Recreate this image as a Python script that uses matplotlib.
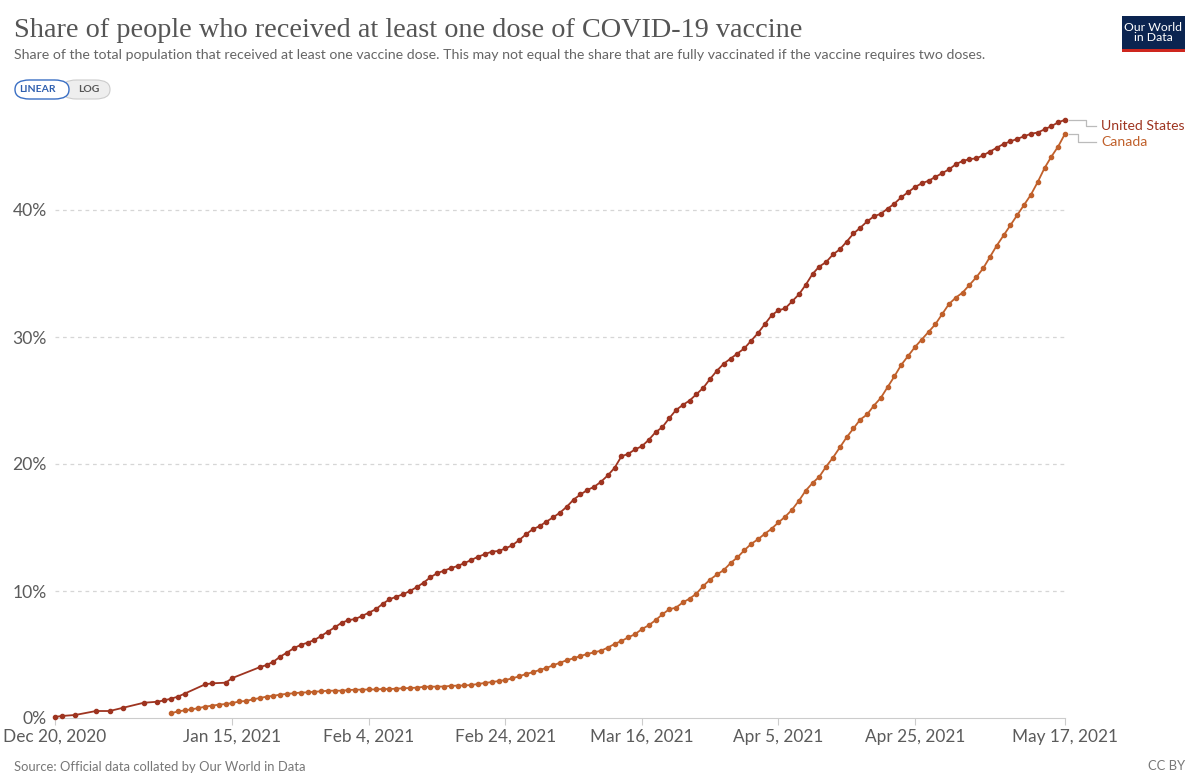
import datetime as dt
import matplotlib
matplotlib.use("Agg")
import matplotlib.pyplot as plt
import matplotlib.dates as mdates
from matplotlib.patches import FancyBboxPatch, Rectangle
from matplotlib.lines import Line2D

plt.rcParams['font.family'] = ['Lato', 'DejaVu Sans']

start = dt.date(2020, 12, 20)

# days since Dec 20, 2020 (US has gaps early on)
us_days = [0, 1, 3, 6, 8, 10, 13, 15, 16, 17, 18, 19, 22, 23, 25, 26] + list(range(30, 149))
us_vals = [0.08, 0.16, 0.24, 0.55, 0.55, 0.81, 1.2, 1.28, 1.39, 1.52, 1.68, 1.92, 2.65, 2.73, 2.78, 3.15,
           4.0, 4.17, 4.43, 4.83, 5.15, 5.5, 5.75, 5.93, 6.14, 6.46,
           6.8, 7.14, 7.5, 7.7, 7.8, 8.03, 8.3, 8.56, 8.98, 9.34,
           9.55, 9.74, 10.0, 10.3, 10.65, 11.08, 11.4, 11.6, 11.8, 11.97,
           12.2, 12.44, 12.7, 12.9, 13.1, 13.15, 13.35, 13.6, 14.0, 14.46,
           14.86, 15.1, 15.46, 15.8, 16.17, 16.64, 17.2, 17.6, 17.95, 18.2,
           18.6, 19.1, 19.7, 20.6, 20.8, 21.15, 21.4, 21.9, 22.5, 22.9,
           23.6, 24.25, 24.65, 25.0, 25.5, 26.0, 26.7, 27.35, 27.9, 28.3,
           28.7, 29.1, 29.7, 30.3, 31.0, 31.7, 32.1, 32.25, 32.8, 33.35,
           34.1, 34.96, 35.55, 35.9, 36.5, 36.9, 37.5, 38.15, 38.6, 39.1,
           39.5, 39.7, 40.1, 40.5, 41.0, 41.4, 41.8, 42.1, 42.3, 42.6,
           42.9, 43.2, 43.6, 43.86, 44.0, 44.07, 44.3, 44.6, 44.9, 45.2,
           45.4, 45.6, 45.8, 46.0, 46.1, 46.35, 46.6, 46.9, 47.1]

ca_days = list(range(17, 149))
ca_vals = [0.37, 0.52, 0.6,
           0.68, 0.78, 0.89, 0.97, 1.05, 1.1, 1.18, 1.3, 1.34, 1.47,
           1.57, 1.68, 1.75, 1.84, 1.9, 1.95, 2.0, 2.02, 2.07, 2.1,
           2.15, 2.15, 2.15, 2.2, 2.23, 2.23, 2.25, 2.25, 2.28, 2.28,
           2.31, 2.34, 2.36, 2.39, 2.45, 2.47, 2.47, 2.48, 2.53, 2.55,
           2.56, 2.6, 2.68, 2.76, 2.83, 2.91, 2.99, 3.12, 3.28, 3.46,
           3.6, 3.78, 3.94, 4.15, 4.35, 4.55, 4.7, 4.88, 5.04, 5.17,
           5.3, 5.54, 5.83, 6.06, 6.35, 6.6, 7.0, 7.3, 7.7, 8.16,
           8.56, 8.69, 9.1, 9.4, 9.8, 10.4, 10.9, 11.3, 11.65, 12.2,
           12.65, 13.2, 13.7, 14.07, 14.5, 14.9, 15.4, 15.85, 16.4, 17.1,
           17.9, 18.5, 19.0, 19.8, 20.5, 21.3, 22.1, 22.8, 23.5, 23.9,
           24.6, 25.2, 26.05, 26.9, 27.8, 28.5, 29.2, 29.8, 30.4, 31.0,
           31.8, 32.6, 33.1, 33.5, 34.1, 34.7, 35.4, 36.3, 37.2, 38.0,
           38.8, 39.6, 40.4, 41.2, 42.2, 43.3, 44.2, 45.0, 46.0]

tick_dates = [dt.date(2020, 12, 20), dt.date(2021, 1, 15), dt.date(2021, 2, 4), dt.date(2021, 2, 24),
              dt.date(2021, 3, 16), dt.date(2021, 4, 5), dt.date(2021, 4, 25), dt.date(2021, 5, 17)]
tick_labels = ['Dec 20, 2020', 'Jan 15, 2021', 'Feb 4, 2021', 'Feb 24, 2021',
               'Mar 16, 2021', 'Apr 5, 2021', 'Apr 25, 2021', 'May 17, 2021']
y_ticks = [0, 10, 20, 30, 40]

us_color = '#9e3420'
ca_color = '#c0602b'

us_x = [start + dt.timedelta(days=d) for d in us_days]
ca_x = [start + dt.timedelta(days=d) for d in ca_days]

W, H = 1200, 779
fig = plt.figure(figsize=(12, 7.79), dpi=100)
ax = fig.add_axes([55 / W, 1 - 718 / H, 1010 / W, (718 - 114.75) / H])

ax.plot(us_x, us_vals, color=us_color, lw=1.3, marker='o', ms=3.0, clip_on=False, zorder=3)
ax.plot(ca_x, ca_vals, color=ca_color, lw=1.3, marker='o', ms=3.0, clip_on=False, zorder=3)

ax.set_xlim(tick_dates[0], tick_dates[-1])
ax.set_ylim(0, 47.5)
ax.set_xticks(tick_dates)
ax.set_xticklabels(tick_labels)
ax.set_yticks(y_ticks)
ax.set_yticklabels([f'{v}%' for v in y_ticks])

for s in ['top', 'right', 'left']:
    ax.spines[s].set_visible(False)
ax.spines['bottom'].set_color('#cccccc')
ax.tick_params(axis='x', colors='#cccccc', labelcolor='#5b5b5b', labelsize=12.4, length=5, pad=3)
ax.tick_params(axis='y', length=0, labelcolor='#5b5b5b', labelsize=12.6, pad=6)
for v in y_ticks[1:]:
    ax.axhline(v, color='#d6d6d6', lw=0.9, ls=(0, (3, 3)), zorder=1)

# title block
fig.text(14 / W, 1 - 37 / H, 'Share of people who received at least one dose of COVID-19 vaccine',
         family=['Liberation Serif', 'DejaVu Serif'], fontsize=20.3, color='#555555', va='baseline')
fig.text(14 / W, 1 - 59 / H,
         'Share of the total population that received at least one vaccine dose. '
         'This may not equal the share that are fully vaccinated if the vaccine requires two doses.',
         fontsize=10.15, color='#666666', va='baseline')

# linear / log toggle
fig.patches.append(FancyBboxPatch((62 / W, 1 - 99 / H), 48 / W, 19 / H,
                                  boxstyle='round,pad=0,rounding_size=0.012', transform=fig.transFigure,
                                  fc='#eeeeee', ec='#cccccc', lw=0.8))
fig.patches.append(FancyBboxPatch((15 / W, 1 - 99 / H), 54 / W, 19 / H,
                                  boxstyle='round,pad=0,rounding_size=0.012', transform=fig.transFigure,
                                  fc='white', ec='#3a6fc4', lw=1.0))
fig.text(37 / W, 1 - 90 / H, 'LINEAR', fontsize=7.5, color='#2f5fae', ha='center', va='center', weight='bold')
fig.text(89 / W, 1 - 90 / H, 'LOG', fontsize=7.5, color='#555555', ha='center', va='center', weight='bold')

# logo
fig.patches.append(Rectangle((1122 / W, 1 - 52 / H), 63 / W, 36 / H, transform=fig.transFigure,
                             fc='#0b2450', ec='none'))
fig.patches.append(Rectangle((1122 / W, 1 - 52 / H), 63 / W, 3.5 / H, transform=fig.transFigure,
                             fc='#ce261e', ec='none'))
fig.text(1153.5 / W, 1 - 32.5 / H, 'Our World\nin Data', fontsize=8.8, color='white', ha='center',
         va='center', linespacing=0.95)

# labels with connector lines
fig.canvas.draw()
ends = [(us_x[-1], us_vals[-1], 'United States', us_color, 17, 6.5),
        (ca_x[-1], ca_vals[-1], 'Canada', ca_color, 9, 8)]
for xe, ye, name, col, dx, dy in ends:
    px, py = ax.transData.transform((mdates.date2num(xe), ye))
    px += 4
    xs = [px, px + dx, px + dx, 1096]
    ly = py - dy
    ys = [py, py, ly, ly]
    fig.add_artist(Line2D([x / W for x in xs], [y / H for y in ys], transform=fig.transFigure,
                          color='#bbbbbb', lw=0.9))
    fig.text(1101 / W, ly / H, name, fontsize=10.1, color=col, va='center')

fig.text(14 / W, 1 - 767 / H, 'Source: Official data collated by Our World in Data',
         fontsize=9.4, color='#777777', va='center')
fig.text(1185 / W, 1 - 766 / H, 'CC BY', fontsize=9.4, color='#777777', va='center', ha='right')

fig.savefig('out.png', dpi=100)
